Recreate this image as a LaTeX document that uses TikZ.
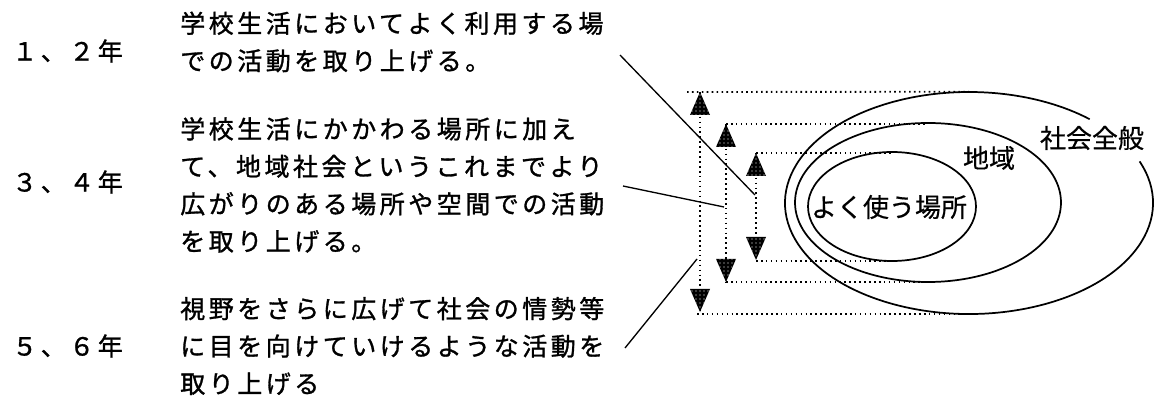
\documentclass[tikz,border=0pt]{standalone}
\usepackage{fontspec}
\newfontfamily\jp[LetterSpace=14,FakeBold=1.2]{Noto Sans CJK JP}
\newfontfamily\jpy[LetterSpace=14,CharacterWidth=Full,FakeBold=1.2]{Noto Sans CJK JP}
\newfontfamily\jpl[FakeBold=0.6]{Noto Sans CJK JP}
\usetikzlibrary{shapes.geometric,patterns}
\begin{document}
\begin{tikzpicture}[x=0.75pt,y=-0.75pt,
  body/.style={font=\jp\fontsize{18.75}{28.1}\selectfont, align=left, inner sep=0pt, anchor=west},
  year/.style={font=\jpy\fontsize{18.75}{28.1}\selectfont, inner sep=0pt, anchor=west},
  lbl/.style={font=\jpl\fontsize{19.5}{24}\selectfont, inner sep=0pt},
  ring/.style={ellipse, draw, line width=1.3pt, inner sep=0pt},
  dotl/.style={line width=1.4pt, dash pattern=on 1.2pt off 2.5pt},
  lead/.style={line width=1pt},
  tri/.style={preaction={fill=black}, pattern=dots, pattern color=white}
]
\useasboundingbox (0,0) rectangle (1154,399);

% left texts
\node[year] (y1) at (12,51) {1、2年};
\node[year] (y2) at (12,182) {3、4年};
\node[year] (y3) at (12,346) {5、6年};
\node[body] (t1) at (180,42) {学校生活においてよく利用する場\\での活動を取り上げる。};
\node[body] (t2) at (180,185) {学校生活にかかわる場所に加え\\て、地域社会というこれまでより\\広がりのある場所や空間での活動\\を取り上げる。};
\node[body] (t3) at (180,346) {視野をさらに広げて社会の情勢等\\に目を向けていけるような活動を\\取り上げる};

% ellipses
\node[ring, minimum width=126pt, minimum height=81.75pt] (inner) at (892,206.5) {};
\node[ring, minimum width=199.5pt, minimum height=119.25pt] (middle) at (928,202.5) {};
\node[ellipse, inner sep=0pt, minimum width=276pt, minimum height=166.5pt] (outer) at (969,203) {};
\draw[line width=1.3pt] (outer.center) ++(-22:184 and 111)
  arc[start angle=-22, end angle=311, x radius=184, y radius=111];

\node[lbl] (lo) at (1092,138) {社会全般};
\node[lbl] (lm) at (989,158) {地域};
\node[lbl] (li) at (889,207) {よく使う場所};

% arrows
\coordinate (oa) at (700,92);  \coordinate (ob) at (700,312);
\coordinate (ma) at (726,124); \coordinate (mb) at (726,282);
\coordinate (ia) at (756,153); \coordinate (ib) at (756,260);
\coordinate (oal) at (687,92); \coordinate (obl) at (697,314);

\draw[dotl] (oa) -- (ob);
\draw[dotl] (ma) -- (mb);
\draw[dotl] (ia) -- (ib);

\draw[dotl] (oal) -- (outer.north);
\draw[dotl] (obl) -- (obl -| outer.south);
\draw[dotl] (ma) -- (ma -| middle.north);
\draw[dotl] (mb) -- (mb -| middle.south);
\draw[dotl] (ia) -- (ia -| inner.north);
\draw[dotl] ([yshift=-0.75pt]ib) -- ([yshift=-0.75pt]ib -| inner.south);

\path[tri] (oa) -- ++(10,23) -- ++(-20,0) -- cycle;
\path[tri] (ob) -- ++(10,-23) -- ++(-20,0) -- cycle;
\path[tri] (ma) -- ++(10,23) -- ++(-20,0) -- cycle;
\path[tri] (mb) -- ++(10,-23) -- ++(-20,0) -- cycle;
\path[tri] (ia) -- ++(10,23) -- ++(-20,0) -- cycle;
\path[tri] (ib) -- ++(10,-23) -- ++(-20,0) -- cycle;

% leader lines
\coordinate (l1a) at (620,55);  \coordinate (l1b) at (755,195);
\coordinate (l2a) at (623,186); \coordinate (l2b) at (724,207);
\coordinate (l3a) at (625,348); \coordinate (l3b) at (697,259);
\draw[lead] (l1a) -- (l1b);
\draw[lead] (l2a) -- (l2b);
\draw[lead] (l3a) -- (l3b);
\end{tikzpicture}
\end{document}
